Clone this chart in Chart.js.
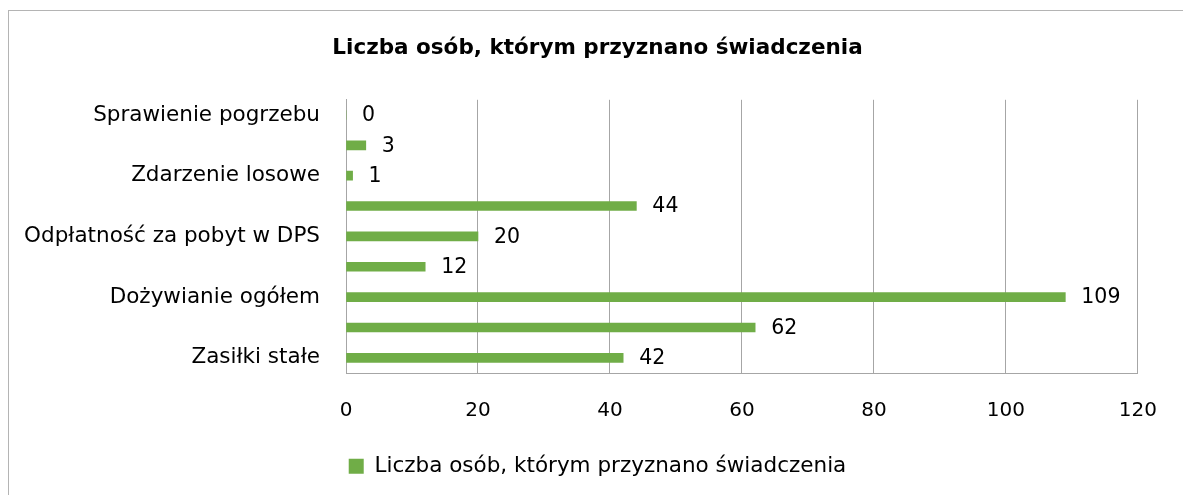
<!DOCTYPE html>
<html>
<head>
<meta charset="utf-8">
<script src="https://cdn.jsdelivr.net/npm/chart.js@4.4.0/dist/chart.umd.min.js"></script>
<style>
    body { margin: 0; background: #fff; }
    #wrap { position: relative; width: 1183px; height: 495px; }
    #frame { position: absolute; left: 8px; top: 10px; right: -5px; bottom: -5px; border: 1px solid #b4b4b4; }
    canvas { position: absolute; left: 0; top: 0; }
</style>
</head>
<body>
<div id="wrap">
    <div id="frame"></div>
    <canvas id="chart" width="1183" height="495"></canvas>
</div>
<script>
const chartTitle = 'Liczba osób, którym przyznano świadczenia';
const seriesName = 'Liczba osób, którym przyznano świadczenia';
// od góry do dołu (co druga etykieta ukryta jak w Excelu)
const categories = ['Sprawienie pogrzebu', '', 'Zdarzenie losowe', '', 'Odpłatność za pobyt w DPS', '', 'Dożywianie ogółem', '', 'Zasiłki stałe'];
const values = [0, 3, 1, 44, 20, 12, 109, 62, 42];
const xTicks = [0, 20, 40, 60, 80, 100, 120];

const FONT = "'DejaVu Sans', sans-serif";
const GREEN = '#70ad47';

const valueLabels = {
    id: 'valueLabels',
    afterDatasetsDraw(chart) {
        const ctx = chart.ctx;
        const meta = chart.getDatasetMeta(0);
        ctx.save();
        ctx.font = '20.5px ' + FONT;
        ctx.fillStyle = '#000';
        ctx.textBaseline = 'middle';
        ctx.textAlign = 'left';
        meta.data.forEach((bar, i) => {
            ctx.fillText(String(values[i]), bar.x + 16, bar.y + 1);
        });
        ctx.restore();
    }
};

new Chart(document.getElementById('chart'), {
    type: 'bar',
    data: {
        labels: categories,
        datasets: [{
            label: seriesName,
            data: values,
            backgroundColor: GREEN,
            borderWidth: 0,
            barThickness: 9
        }]
    },
    plugins: [valueLabels],
    options: {
        indexAxis: 'y',
        responsive: false,
        animation: false,
        layout: { padding: { left: 12, right: 0, top: 10, bottom: 8 } },
        plugins: {
            title: {
                display: true,
                text: chartTitle,
                color: '#000',
                font: { family: FONT, size: 21.5, weight: 'bold' },
                padding: { top: 26, bottom: 38 }
            },
            legend: {
                position: 'bottom',
                labels: {
                    color: '#000',
                    font: { family: FONT, size: 21.5 },
                    boxWidth: 15,
                    boxHeight: 15,
                    padding: 10
                }
            },
            tooltip: { enabled: false }
        },
        scales: {
            x: {
                min: 0,
                max: 120,
                afterBuildTicks: axis => { axis.ticks = xTicks.map(v => ({ value: v })); },
                afterFit: axis => { axis.height = 72.5; },
                grid: { color: '#a6a6a6', drawTicks: false },
                border: { color: '#a6a6a6' },
                ticks: { color: '#000', font: { family: FONT, size: 20 }, padding: 26, maxRotation: 0 }
            },
            y: {
                afterFit: axis => { axis.width = 334; },
                grid: { display: false, drawTicks: false },
                border: { color: '#a6a6a6' },
                ticks: { color: '#000', font: { family: FONT, size: 21.5 }, padding: 26, autoSkip: false }
            },
            // pusty margines z prawej strony obszaru wykresu
            yRight: {
                type: 'category',
                position: 'right',
                afterFit: axis => { axis.width = 37; },
                grid: { display: false, drawTicks: false },
                border: { display: false },
                ticks: { display: false }
            }
        }
    }
});
</script>
</body>
</html>
